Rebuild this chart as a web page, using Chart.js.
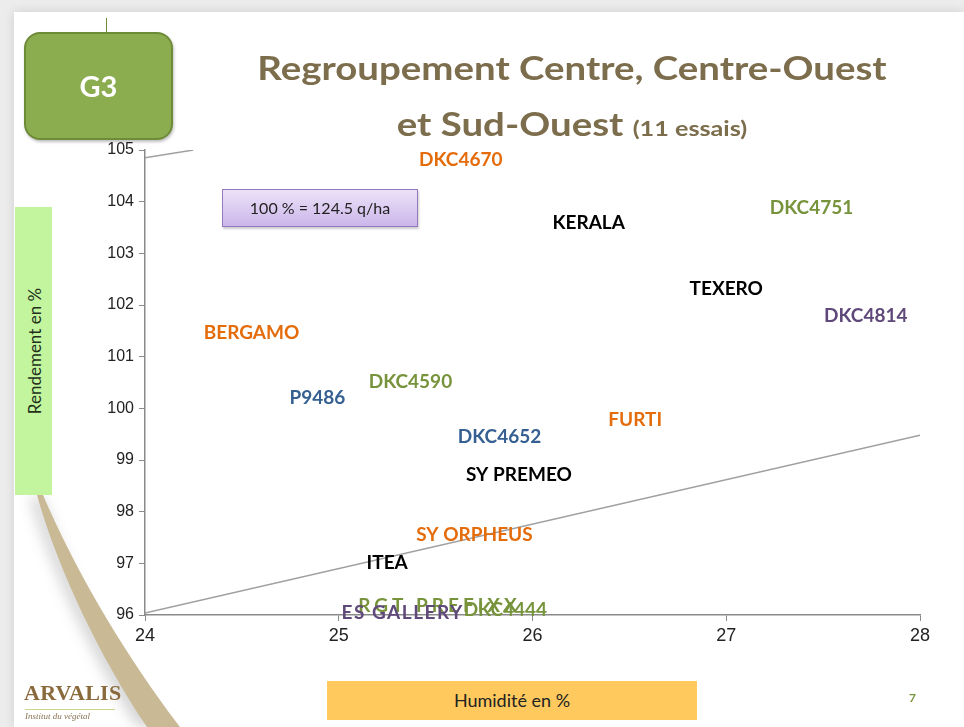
<!DOCTYPE html>
<html>
<head>
<meta charset="utf-8">
<script src="https://cdn.jsdelivr.net/npm/chart.js@4"></script>
<style>
  html, body { margin: 0; padding: 0; }
  body { width: 964px; height: 727px; position: relative; overflow: hidden; background: #ececec; font-family: Lato, 'Open Sans', sans-serif; }
  #slide { position: absolute; left: 14px; top: 12px; right: 0; bottom: 0; background: #fff; box-shadow: 0 0 10px rgba(0,0,0,0.12); }
  #swoosh { position: absolute; left: 0; top: 0; }
  #chart { position: absolute; left: 0; top: 0; }
  .title { position: absolute; left: 0; width: 1144px; text-align: center; color: #7c6d4c; font-weight: 700; transform: scaleX(1.2); transform-origin: 572px 0; white-space: nowrap; }
  #g3 { position: absolute; left: 24px; top: 32px; width: 145px; height: 104px; background: #8cad4f; border: 2px solid #6e8b38; border-radius: 16px; color: #fff; font-weight: 700; font-size: 29px; text-align: center; line-height: 104px; box-shadow: 1px 2px 3px rgba(0,0,0,0.25); }
  #g3stem { position: absolute; left: 106px; top: 18px; width: 1px; height: 15px; background: #6e8b38; }
  #ytitle { position: absolute; left: 15px; top: 207px; width: 37px; height: 288px; background: #c3f59e; }
  #ytitle span { position: absolute; left: 50%; top: 50%; transform: translate(-50%, -50%) rotate(-90deg); white-space: nowrap; font-size: 17px; color: #22301a; }
  #xtitle { position: absolute; left: 327px; top: 681px; width: 370px; height: 39px; background: #ffc95e; text-align: center; line-height: 39px; font-size: 18px; color: #222; }
  #note { position: absolute; left: 222px; top: 189px; width: 194px; height: 36px; background: linear-gradient(#ece2f8, #cbb6ea); border: 1px solid #9479bf; text-align: center; line-height: 36px; font-size: 16px; color: #222; box-shadow: 1px 2px 2px rgba(0,0,0,0.2); }
  #logo { position: absolute; left: 24px; top: 680px; color: #8a6a3c; font-family: 'Liberation Serif', 'DejaVu Serif', serif; font-size: 22px; font-weight: 700; letter-spacing: 0.3px; }
  #logo2 { position: absolute; left: 25px; top: 709px; color: #8a7455; font-family: 'Liberation Serif', serif; font-style: italic; font-size: 9px; border-top: 1px solid #c8d58a; width: 90px; padding-top: 1px; }
  #pagenum { position: absolute; left: 909px; top: 690px; color: #77933c; font-size: 12px; font-weight: 700; }
</style>
</head>
<body>
<div id="slide"></div>
<svg id="swoosh" width="964" height="727">
  <defs>
    <filter id="blur" x="-50%" y="-50%" width="200%" height="200%"><feGaussianBlur stdDeviation="7"/></filter>
  </defs>
  <path d="M30 497 C 55 580, 95 660, 138 727 L 160 727 C 110 660, 70 580, 42 497 Z" fill="#9a9a9a" opacity="0.45" filter="url(#blur)"/>
  <path d="M37 495 C 55 560, 95 650, 147 727 L 180 727 C 125 655, 75 570, 43 495 Z" fill="#c9b995"/>
</svg>
<canvas id="chart" width="964" height="727"></canvas>
<div class="title" style="top:48px;font-size:32px;">Regroupement Centre, Centre-Ouest</div>
<div class="title" style="top:104px;font-size:32px;">et Sud-Ouest <span style="font-size:21px;">(11 essais)</span></div>
<div id="g3stem"></div>
<div id="g3">G3</div>
<div id="ytitle"><span>Rendement en %</span></div>
<div id="xtitle">Humidité en %</div>
<div id="note">100 % = 124.5 q/ha</div>
<div id="logo">ARVALIS</div>
<div id="logo2">Institut du végétal</div>
<div id="pagenum">7</div>
<script>
// varieties with humidity (x, %) and yield (y, % of mean)
const varieties = ['DKC4670', 'DKC4751', 'KERALA', 'TEXERO', 'DKC4814', 'BERGAMO', 'DKC4590', 'P9486',
  'FURTI', 'DKC4652', 'SY PREMEO', 'SY ORPHEUS', 'ITEA', 'RGT PREFIXX', 'DKC4444', 'ES GALLERY'];
const humidity = [25.63, 27.44, 26.29, 27.0, 27.72, 24.55, 25.37, 24.89,
  26.53, 25.83, 25.93, 25.70, 25.25, 25.52, 25.86, 25.33];
const yieldPct = [104.81, 103.88, 103.59, 102.31, 101.79, 101.46, 100.51, 100.20,
  99.77, 99.45, 98.71, 97.55, 97.01, 96.17, 96.10, 96.04];
const labelColors = ['#e46c0a', '#77933c', '#000000', '#000000', '#5f497a', '#e46c0a', '#77933c', '#376092',
  '#e46c0a', '#376092', '#000000', '#e46c0a', '#000000', '#77933c', '#77933c', '#5f497a'];

// reference lines
const lowerLineX = [24, 28];
const lowerLineY = [96.04, 99.48];
const upperLineX = [24, 24.25];
const upperLineY = [104.85, 105.0];

const xTicks = [24, 25, 26, 27, 28];
const yTicks = [96, 97, 98, 99, 100, 101, 102, 103, 104, 105];

// draws variety names at their points
const labelPlugin = {
  id: 'labels',
  afterDatasetsDraw(chart) {
    const ctx = chart.ctx;
    const meta = chart.getDatasetMeta(0);
    ctx.save();
    ctx.textAlign = 'center';
    ctx.textBaseline = 'middle';
    meta.data.forEach((pt, i) => {
      let spacing = '0px';
      if (varieties[i] === 'RGT PREFIXX') spacing = '4px';
      if (varieties[i] === 'ES GALLERY') spacing = '1.5px';
      ctx.font = 'bold 19px Lato, sans-serif';
      ctx.letterSpacing = spacing;
      ctx.fillStyle = labelColors[i];
      ctx.fillText(varieties[i], pt.x, pt.y);
    });
    ctx.restore();
  }
};

const ctx = document.getElementById('chart').getContext('2d');
new Chart(ctx, {
  type: 'scatter',
  data: {
    datasets: [
      {
        data: humidity.map((h, i) => ({ x: h, y: yieldPct[i] })),
        pointRadius: 0,
        pointHoverRadius: 0
      },
      {
        data: lowerLineX.map((x, i) => ({ x: x, y: lowerLineY[i] })),
        showLine: true,
        borderColor: '#a0a0a0',
        borderWidth: 1.5,
        pointRadius: 0
      },
      {
        data: upperLineX.map((x, i) => ({ x: x, y: upperLineY[i] })),
        showLine: true,
        borderColor: '#a0a0a0',
        borderWidth: 1.5,
        pointRadius: 0
      }
    ]
  },
  options: {
    responsive: false,
    animation: false,
    layout: { padding: { left: 100, top: 150, right: 44, bottom: 72 } },
    plugins: { legend: { display: false }, tooltip: { enabled: false } },
    scales: {
      x: {
        type: 'linear',
        min: 24, max: 28,
        afterBuildTicks: (s) => { s.ticks = xTicks.map(v => ({ value: v })); },
        afterFit: (s) => { s.height = 40; },
        grid: { drawOnChartArea: false, drawTicks: true, tickLength: 6, color: '#8a8a8a' },
        border: { display: true, color: '#8a8a8a', width: 1.5 },
        ticks: { color: '#222', padding: 4, font: { family: "'Liberation Sans Narrow', 'Liberation Sans', Arial", size: 18 } }
      },
      y: {
        type: 'linear',
        min: 96, max: 105,
        afterBuildTicks: (s) => { s.ticks = yTicks.map(v => ({ value: v })); },
        afterFit: (s) => { s.width = 45; },
        grid: { drawOnChartArea: false, drawTicks: true, tickLength: 6, color: '#8a8a8a' },
        border: { display: true, color: '#8a8a8a', width: 1.5 },
        ticks: { color: '#222', padding: 5, font: { family: "'Liberation Sans', Arial", size: 16 } }
      }
    }
  },
  plugins: [labelPlugin]
});
</script>
</body>
</html>
